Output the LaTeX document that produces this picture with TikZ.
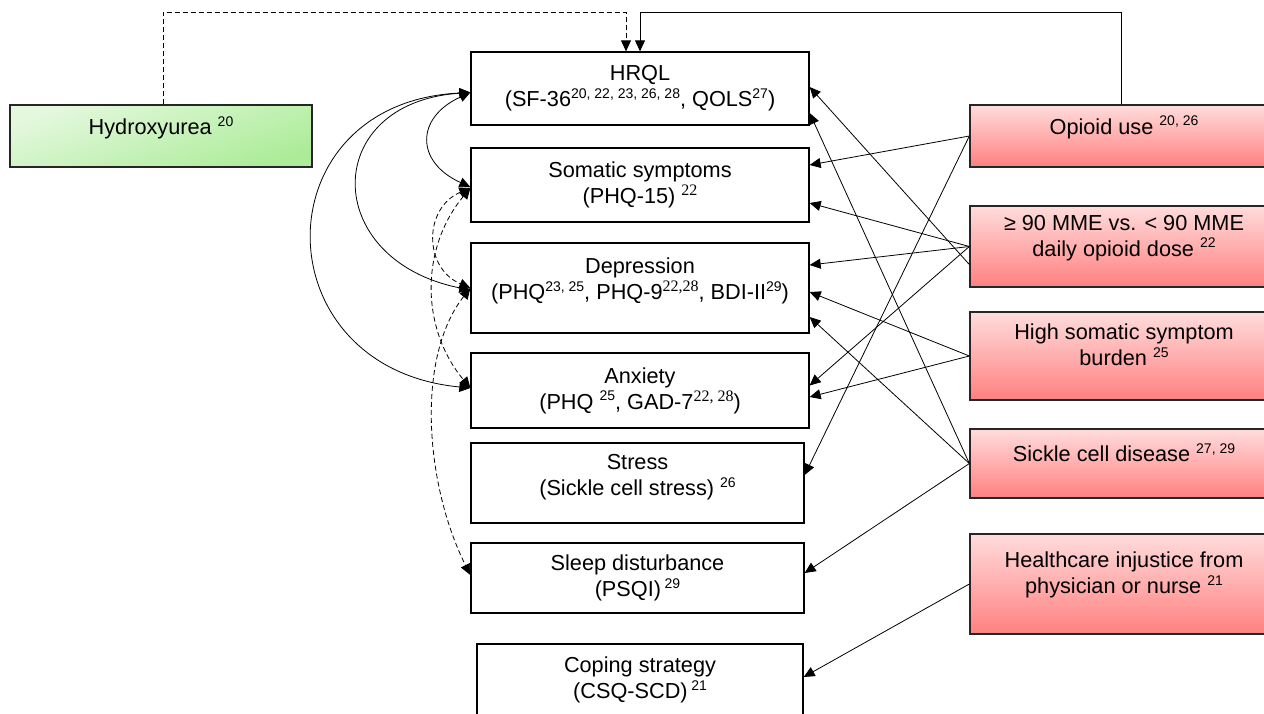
\documentclass[tikz,border=0pt]{standalone}
\usepackage{fontspec}
\setmainfont{Liberation Sans}
\newfontfamily\timesref{Liberation Serif}
\usetikzlibrary{arrows.meta,positioning}
\definecolor{pinktop}{RGB}{255,220,220}
\definecolor{pinkbot}{RGB}{255,128,128}
\definecolor{greentop}{RGB}{228,248,222}
\definecolor{greenbot}{RGB}{172,236,152}
\newcommand{\rf}[1]{\raisebox{8.5pt}{\fontsize{14}{14}\selectfont #1}}
\newcommand{\rft}[1]{\raisebox{8pt}{\timesref\fontsize{16}{16}\selectfont #1}}

\begin{document}
\begin{tikzpicture}[x=1pt, y=-1pt, line width=0.8pt,
    every node/.style={font=\fontsize{21.7}{26}\selectfont, align=center, inner sep=0pt},
    wbox/.style={draw, line width=1.3pt, minimum width=338pt},
    rbox/.style={draw=black!85, line width=1.3pt, top color=pinktop, bottom color=pinkbot,
        minimum width=308pt, text depth=22pt},
    gbox/.style={draw=black!85, line width=1.3pt, top color=greentop, bottom color=greenbot,
        shading angle=20, minimum width=302pt, text depth=21pt},
    arr/.style={-{Triangle[length=11pt,width=10pt]}},
    darr/.style={{Triangle[length=11pt,width=10pt]}-{Triangle[length=11pt,width=10pt]}},
    dsh/.style={dash pattern=on 5pt off 3pt}]
    \useasboundingbox (0,0) rectangle (1264,713);

    % Исходы
    \node[wbox, minimum height=73pt] (hrql) at (640,88.5)
        {HRQL\\(SF-36\rf{20, 22, 23, 26, 28}, QOLS\rf{27})};
    \node[wbox, minimum height=74pt] (somatic) at (640,185)
        {Somatic symptoms\\(PHQ-15) \rft{22}};
    \node[wbox, minimum height=90pt, text depth=18pt] (depression) at (640,288)
        {Depression\\(PHQ\rf{23, 25}, PHQ-9\rft{22,28}, BDI-II\rf{29})};
    \node[wbox, minimum height=75pt] (anxiety) at (640,390.5)
        {Anxiety\\(PHQ \rf{25}, GAD-7\rft{22, 28})};
    \node[wbox, minimum height=80pt, minimum width=333pt, text depth=16pt] (stress) at (637.5,483)
        {Stress\\(Sickle cell stress) \rf{26}};
    \node[wbox, minimum height=70pt, minimum width=333pt] (sleep) at (637.5,578)
        {Sleep disturbance\\(PSQI)\,\rf{29}};
    \node[wbox, minimum height=80pt, minimum width=326pt, text depth=12pt] (coping) at (640,684)
        {Coping strategy\\(CSQ-SCD)\,\rf{21}};

    % Факторы
    \node[gbox, minimum height=62pt] (hydroxy) at (161,136) {Hydroxyurea \rf{20}};
    \node[rbox, minimum height=62pt] (opioid) at (1124,136) {Opioid use \rf{20, 26}};
    \node[rbox, minimum height=81pt] (mme) at (1124,246.5)
        {≥ 90 MME vs. < 90 MME\\daily opioid dose \rf{22}};
    \node[rbox, minimum height=88pt] (highsom) at (1124,356)
        {High somatic symptom\\burden \rf{25}};
    \node[rbox, minimum height=69pt] (sickle) at (1124,463.5) {Sickle cell disease \rf{27, 29}};
    \node[rbox, minimum height=100pt] (injustice) at (1124,584)
        {Healthcare injustice from\\physician or nurse \rf{21}};

    \coordinate (toprow) at (0,12);
    \draw[arr, dsh] ([xshift=2pt]hydroxy.north) -- ([xshift=2pt]hydroxy.north |- toprow)
        -| ([xshift=-14pt]hrql.north);
    \draw[arr] ([xshift=-3pt]opioid.north) -- ([xshift=-3pt]opioid.north |- toprow) -| (hrql.north);

    \draw[arr] (opioid.west) -- ([yshift=20pt]somatic.east);
    \draw[arr] (opioid.west) -- ([yshift=8pt]stress.east);
    \draw[arr] (mme.west) -- ([yshift=-18pt]somatic.east);
    \draw[arr] (mme.west) -- ([yshift=23pt]depression.east);
    \draw[arr] (mme.west) -- ([yshift=5pt]anxiety.east);
    \draw[arr] ([yshift=-18pt]mme.west) -- ([yshift=1.5pt]hrql.east);
    \draw[arr] (highsom.west) -- ([yshift=-4pt]depression.east);
    \draw[arr] (highsom.west) -- ([yshift=-6.5pt]anxiety.east);
    \draw[arr] (sickle.west) -- ([yshift=-24.5pt]hrql.east);
    \draw[arr] (sickle.west) -- ([yshift=-29pt]depression.east);
    \draw[arr] (sickle.west) -- ([yshift=5pt]sleep.east);
    \draw[arr] (injustice.west) -- ([yshift=7pt]coping.east);

    % Связи между исходами
    \draw[darr] ([yshift=-4pt]hrql.west) .. controls +(-55,25) and +(-55,-25) .. ([yshift=-2pt]somatic.west);
    \draw[darr] ([yshift=-4pt]hrql.west) .. controls +(-150,10) and +(-150,-30) .. ([yshift=-2pt]depression.west);
    \draw[darr] ([yshift=-4pt]hrql.west) .. controls +(-210,10) and +(-210,-20) .. ([yshift=2.5pt]anxiety.west);
    \draw[darr, dsh] ([yshift=-3pt]somatic.west) .. controls +(-47,20) and +(-47,-20) .. (depression.west);
    \draw[darr, dsh] ([yshift=-3pt]somatic.west) .. controls +(-50,60) and +(-50,-60) .. ([yshift=2.5pt]anxiety.west);
    \draw[darr, dsh] (depression.west) .. controls +(-55,70) and +(-45,-90) .. ([yshift=3pt]sleep.west);
\end{tikzpicture}
\end{document}
